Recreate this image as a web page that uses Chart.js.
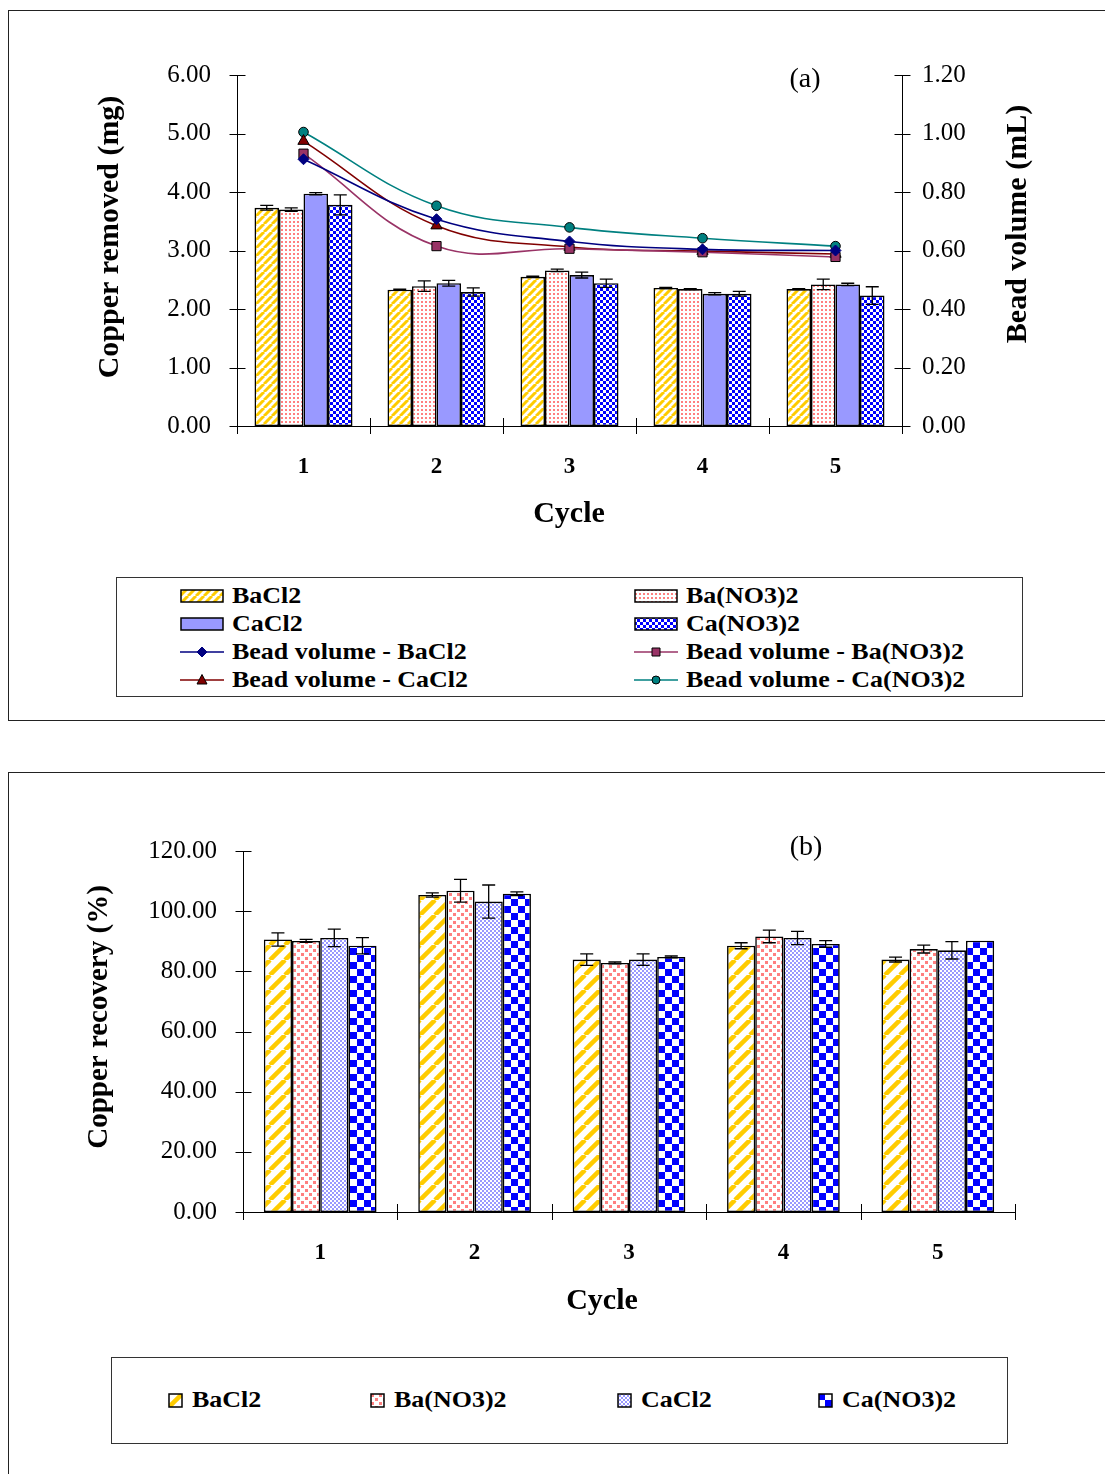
<!DOCTYPE html>
<html>
<head>
<meta charset="utf-8">
<script src="https://cdn.jsdelivr.net/npm/chart.js@4.4.1/dist/chart.umd.min.js"></script>
<style>
  html, body { margin: 0; padding: 0; background: #fff; }
  body { width: 1105px; height: 1474px; position: relative; overflow: hidden;
         font-family: "Liberation Serif", "Times New Roman", serif; }
  .panel { position: absolute; border: 1.5px solid #222; box-sizing: border-box; }
  #panelA { left: 8px; top: 10px; width: 1200px; height: 711px; }
  #panelB { left: 8px; top: 772px; width: 1200px; height: 800px; }
  .chart { position: absolute; left: 0; }
  #chartA { top: 0; }
  #chartB { top: 780px; }
  .legend { position: absolute; border: 1px solid #333; box-sizing: border-box; background: #fff; }
  #legendA { left: 116px; top: 577px; width: 907px; height: 120px; }
  #legendB { left: 111px; top: 1357px; width: 897px; height: 87px; }
  .item { position: absolute; height: 28px; display: flex; align-items: center; }
  .item canvas { display: block; }
  .item span { font-weight: bold; font-size: 23px; display: inline-block; white-space: nowrap;
               transform: scaleX(1.13); transform-origin: left center; color: #000; }
</style>
</head>
<body>
<div class="panel" id="panelA"></div>
<div class="panel" id="panelB"></div>
<canvas class="chart" id="chartA" width="1105" height="560"></canvas>
<canvas class="chart" id="chartB" width="1105" height="540"></canvas>
<div class="legend" id="legendA"></div>
<div class="legend" id="legendB"></div>

<script>
// ---- data -------------------------------------------------------------
const cycles = ['1', '2', '3', '4', '5'];
const binders = ['BaCl2', 'Ba(NO3)2', 'CaCl2', 'Ca(NO3)2'];

// (a) copper removed, mg
const removedBaCl2 = [3.73, 2.33, 2.55, 2.36, 2.34];
const removedBaNO3 = [3.70, 2.39, 2.66, 2.34, 2.42];
const removedCaCl2 = [3.97, 2.44, 2.58, 2.26, 2.42];
const removedCaNO3 = [3.78, 2.29, 2.44, 2.26, 2.23];
const removedErrBaCl2 = [0.04, 0.01, 0.01, 0.01, 0.01];
const removedErrBaNO3 = [0.03, 0.09, 0.02, 0.01, 0.09];
const removedErrCaCl2 = [0.02, 0.05, 0.05, 0.02, 0.02];
const removedErrCaNO3 = [0.17, 0.07, 0.07, 0.04, 0.15];

// (a) bead volume, mL
const volumeBaCl2 = [0.912, 0.707, 0.631, 0.604, 0.600];
const volumeBaNO3 = [0.931, 0.615, 0.606, 0.594, 0.578];
const volumeCaCl2 = [0.974, 0.685, 0.612, 0.598, 0.588];
const volumeCaNO3 = [1.005, 0.753, 0.679, 0.642, 0.615];

// (b) copper recovery, %
const recoveryBaCl2 = [90.6, 105.4, 83.9, 88.5, 83.9];
const recoveryBaNO3 = [90.1, 106.8, 82.8, 91.6, 87.4];
const recoveryCaCl2 = [91.1, 103.2, 83.9, 91.1, 87.0];
const recoveryCaNO3 = [88.5, 105.8, 84.8, 89.1, 90.2];
const recoveryErrBaCl2 = [2.2, 0.7, 1.9, 1.0, 0.8];
const recoveryErrBaNO3 = [0.5, 3.8, 0.3, 2.1, 1.3];
const recoveryErrCaCl2 = [2.9, 5.5, 1.9, 2.2, 2.9];
const recoveryErrCaNO3 = [2.7, 0.6, 0.3, 1.1, 0];

// axis ranges
const removedAxis = { min: 0, max: 6, step: 1 };
const volumeAxis = { min: 0, max: 1.2, step: 0.2 };
const recoveryAxis = { min: 0, max: 120, step: 20 };

// ---- fills --------------------------------------------------------------
const FONT = '"Liberation Serif", "Times New Roman", serif';
Chart.defaults.font.family = FONT;
Chart.defaults.color = '#000';

function tile(w, h, draw) {
  const c = document.createElement('canvas');
  c.width = w; c.height = h;
  const g = c.getContext('2d');
  g.fillStyle = '#fff';
  g.fillRect(0, 0, w, h);
  draw(g, w, h);
  return c;
}
function stripes(size, lw, color) {
  return tile(size, size, (g) => {
    g.strokeStyle = color; g.lineWidth = lw;
    for (const k of [-size, 0, size]) {
      g.beginPath(); g.moveTo(k, size); g.lineTo(k + size, 0); g.stroke();
    }
  });
}
function dots(w, h, rects, color) {
  return tile(w, h, (g) => {
    g.fillStyle = color;
    rects.forEach(r => g.fillRect(r[0], r[1], r[2], r[3]));
  });
}
function checker(cell, color) {
  return tile(cell * 2, cell * 2, (g) => {
    g.fillStyle = color;
    g.fillRect(0, 0, cell, cell);
    g.fillRect(cell, cell, cell, cell);
  });
}

const YELLOW = '#FFCC00', PINK = '#FF8080', LAVENDER = '#9999FF', BLUE = '#0000FF';
const tilesA = [stripes(8, 3, YELLOW), dots(4, 4, [[1, 1, 2, 2]], PINK), null, checker(3, BLUE)];
const tilesB = [stripes(15, 4.5, YELLOW), dots(8, 8, [[1, 1, 3, 3], [5, 5, 3, 3]], PINK),
                checker(2, LAVENDER), checker(7, BLUE)];

function fillFor(ctx, tiles, i) {
  return tiles[i] ? ctx.createPattern(tiles[i], 'repeat') : LAVENDER;
}

// ---- plugins ------------------------------------------------------------
// tick marks that cross each axis line
const crossTicks = {
  id: 'crossTicks',
  afterDraw(chart) {
    const ctx = chart.ctx;
    ctx.save();
    ctx.strokeStyle = '#000';
    ctx.lineWidth = 1;
    const seg = (x1, y1, x2, y2) => { ctx.beginPath(); ctx.moveTo(x1, y1); ctx.lineTo(x2, y2); ctx.stroke(); };
    Object.values(chart.scales).forEach(s => {
      if (s.isHorizontal()) {
        const n = s.ticks.length, step = (s.right - s.left) / n;
        for (let k = 0; k <= n; k++) {
          const x = Math.round(s.left + k * step) + 0.5;
          seg(x, s.top - 8, x, s.top + 8);
        }
      } else {
        const x = Math.round(s.position === 'left' ? s.right : s.left) + 0.5;
        s.ticks.forEach((t, i) => {
          const y = Math.round(s.getPixelForTick(i)) + 0.5;
          seg(x - 8, y, x + 8, y);
        });
      }
    });
    ctx.restore();
  }
};

// standard-deviation whiskers on the bars
const errorBars = {
  id: 'errorBars',
  afterDatasetDraw(chart, args) {
    const ds = chart.data.datasets[args.index];
    if (!ds.errorBars) return;
    const ctx = chart.ctx;
    const yScale = chart.scales[args.meta.yAxisID];
    ctx.save();
    ctx.strokeStyle = '#000';
    ctx.lineWidth = 1.3;
    args.meta.data.forEach((bar, i) => {
      const e = ds.errorBars[i];
      if (!e) return;
      const v = ds.data[i];
      const y1 = yScale.getPixelForValue(v + e), y2 = yScale.getPixelForValue(v - e);
      const x = bar.x, cap = 6.5;
      ctx.beginPath();
      ctx.moveTo(x, y1); ctx.lineTo(x, y2);
      ctx.moveTo(x - cap, y1); ctx.lineTo(x + cap, y1);
      ctx.moveTo(x - cap, y2); ctx.lineTo(x + cap, y2);
      ctx.stroke();
    });
    ctx.restore();
  }
};

// axis titles and panel letter
const panelText = {
  id: 'panelText',
  afterDraw(chart, args, opts) {
    const ctx = chart.ctx;
    (opts.items || []).forEach(t => {
      ctx.save();
      ctx.translate(t.x, t.y);
      if (t.rot) ctx.rotate(t.rot);
      ctx.font = t.font;
      ctx.fillStyle = '#000';
      ctx.textAlign = 'center';
      ctx.textBaseline = 'middle';
      ctx.fillText(t.text, 0, 0);
      ctx.restore();
    });
  }
};

const axisBorder = { color: '#000', width: 1 };
const fmt2 = v => Number(v).toFixed(2);

// ---- chart (a) ----------------------------------------------------------
const ctxA = document.getElementById('chartA').getContext('2d');
const removedSeries = [removedBaCl2, removedBaNO3, removedCaCl2, removedCaNO3];
const removedErrors = [removedErrBaCl2, removedErrBaNO3, removedErrCaCl2, removedErrCaNO3];
const volumeSeries = [volumeBaCl2, volumeBaNO3, volumeCaCl2, volumeCaNO3];
const lineStyles = [
  { color: '#000080', point: 'rectRot', radius: 5.5, border: '#000080' },
  { color: '#993366', point: 'rect', radius: 6.5, border: '#000' },
  { color: '#800000', point: 'triangle', radius: 6.5, border: '#000' },
  { color: '#008080', point: 'circle', radius: 4.8, border: '#000' }
];

const datasetsA = [];
binders.forEach((b, i) => {
  datasetsA.push({
    type: 'bar', label: b, data: removedSeries[i], yAxisID: 'y', order: 2,
    backgroundColor: fillFor(ctxA, tilesA, i), borderColor: '#000', borderWidth: 1.6,
    borderSkipped: false, errorBars: removedErrors[i]
  });
});
binders.forEach((b, i) => {
  const st = lineStyles[i];
  datasetsA.push({
    type: 'line', label: 'Bead volume - ' + b, data: volumeSeries[i], yAxisID: 'yVol', order: 1,
    borderColor: st.color, backgroundColor: st.color, borderWidth: 1.6, tension: 0.4,
    pointStyle: st.point, pointRadius: st.radius, pointBackgroundColor: st.color,
    pointBorderColor: st.border, pointBorderWidth: 1, fill: false
  });
});

new Chart(ctxA, {
  type: 'bar',
  data: { labels: cycles, datasets: datasetsA },
  options: {
    responsive: false, animation: false,
    layout: { padding: { top: 75, left: 0, right: 0, bottom: 0 } },
    datasets: { bar: { categoryPercentage: 0.737, barPercentage: 1 } },
    plugins: {
      legend: { display: false }, tooltip: { enabled: false },
      panelText: { items: [
        { text: 'Copper removed (mg)', x: 110, y: 237, rot: -Math.PI / 2, font: 'bold 30px ' + FONT },
        { text: 'Bead volume (mL)', x: 1018, y: 224, rot: -Math.PI / 2, font: 'bold 30px ' + FONT },
        { text: 'Cycle', x: 569, y: 514, font: 'bold 30px ' + FONT },
        { text: '(a)', x: 805, y: 80, font: '28px ' + FONT }
      ] }
    },
    scales: {
      x: {
        grid: { display: false }, border: axisBorder,
        ticks: { font: { size: 23, weight: 'bold' }, color: '#000', padding: 19 },
        afterFit(s) { s.height = 134; }
      },
      y: {
        position: 'left', min: removedAxis.min, max: removedAxis.max,
        grid: { display: false }, border: axisBorder,
        ticks: { stepSize: removedAxis.step, callback: fmt2, font: { size: 25 }, color: '#000', padding: 18 },
        afterFit(s) { s.width = 237; }
      },
      yVol: {
        position: 'right', min: volumeAxis.min, max: volumeAxis.max,
        grid: { display: false }, border: axisBorder,
        ticks: { stepSize: volumeAxis.step, callback: fmt2, font: { size: 25 }, color: '#000', padding: 12 },
        afterFit(s) { s.width = 203; }
      }
    }
  },
  plugins: [crossTicks, errorBars, panelText]
});

// ---- chart (b) ----------------------------------------------------------
const ctxB = document.getElementById('chartB').getContext('2d');
const recoverySeries = [recoveryBaCl2, recoveryBaNO3, recoveryCaCl2, recoveryCaNO3];
const recoveryErrors = [recoveryErrBaCl2, recoveryErrBaNO3, recoveryErrCaCl2, recoveryErrCaNO3];

new Chart(ctxB, {
  type: 'bar',
  data: {
    labels: cycles,
    datasets: binders.map((b, i) => ({
      label: b, data: recoverySeries[i],
      backgroundColor: fillFor(ctxB, tilesB, i), borderColor: '#000', borderWidth: 1.6,
      borderSkipped: false, errorBars: recoveryErrors[i]
    }))
  },
  options: {
    responsive: false, animation: false,
    layout: { padding: { top: 71, left: 0, right: 90, bottom: 0 } },
    datasets: { bar: { categoryPercentage: 0.73, barPercentage: 1 } },
    plugins: {
      legend: { display: false }, tooltip: { enabled: false },
      panelText: { items: [
        { text: 'Copper recovery (%)', x: 100, y: 237, rot: -Math.PI / 2, font: 'bold 29px ' + FONT },
        { text: 'Cycle', x: 602, y: 521, font: 'bold 30px ' + FONT },
        { text: '(b)', x: 806, y: 68, font: '28px ' + FONT }
      ] }
    },
    scales: {
      x: {
        grid: { display: false }, border: axisBorder,
        ticks: { font: { size: 23, weight: 'bold' }, color: '#000', padding: 19 },
        afterFit(s) { s.height = 108; }
      },
      y: {
        position: 'left', min: recoveryAxis.min, max: recoveryAxis.max,
        grid: { display: false }, border: axisBorder,
        ticks: { stepSize: recoveryAxis.step, callback: fmt2, font: { size: 25 }, color: '#000', padding: 18 },
        afterFit(s) { s.width = 243; }
      }
    }
  },
  plugins: [crossTicks, errorBars, panelText]
});

// ---- legends ------------------------------------------------------------
function drawMarker(g, style, cx, cy) {
  g.fillStyle = style.color;
  g.strokeStyle = style.border;
  g.lineWidth = 1;
  g.beginPath();
  if (style.point === 'rectRot') {
    g.moveTo(cx, cy - 5); g.lineTo(cx + 5, cy); g.lineTo(cx, cy + 5); g.lineTo(cx - 5, cy); g.closePath();
  } else if (style.point === 'rect') {
    g.rect(cx - 4, cy - 4, 8, 8);
  } else if (style.point === 'triangle') {
    g.moveTo(cx, cy - 5.5); g.lineTo(cx + 5, cy + 4); g.lineTo(cx - 5, cy + 4); g.closePath();
  } else {
    g.arc(cx, cy, 4, 0, Math.PI * 2);
  }
  g.fill(); g.stroke();
}

function legendItem(box, left, top, swW, swH, paint, text) {
  const item = document.createElement('div');
  item.className = 'item';
  item.style.left = left + 'px';
  item.style.top = top + 'px';
  const c = document.createElement('canvas');
  c.width = swW; c.height = swH;
  paint(c.getContext('2d'), swW, swH);
  c.style.marginRight = (swW > 20 ? 8 : 9) + 'px';
  const span = document.createElement('span');
  span.textContent = text;
  item.appendChild(c);
  item.appendChild(span);
  box.appendChild(item);
}

const legA = document.getElementById('legendA');
const colA = [63, 517], rowA = [4, 32, 60, 88];
binders.forEach((b, i) => {
  legendItem(legA, colA[i % 2], rowA[Math.floor(i / 2)], 44, 16, (g, w, h) => {
    g.fillStyle = fillFor(g, tilesA, i);
    g.fillRect(1, 2, w - 2, h - 4);
    g.strokeStyle = '#000'; g.lineWidth = 1.5;
    g.strokeRect(1, 2, w - 2, h - 4);
  }, b);
});
binders.forEach((b, i) => {
  const st = lineStyles[i];
  legendItem(legA, colA[i % 2], rowA[2 + Math.floor(i / 2)], 44, 16, (g, w, h) => {
    g.strokeStyle = st.color; g.lineWidth = 1.6;
    g.beginPath(); g.moveTo(0, h / 2); g.lineTo(w, h / 2); g.stroke();
    drawMarker(g, st, w / 2, h / 2);
  }, 'Bead volume - ' + b);
});

const legB = document.getElementById('legendB');
const colB = [56, 258, 505, 706];
binders.forEach((b, i) => {
  legendItem(legB, colB[i], 28, 15, 15, (g, w, h) => {
    g.fillStyle = fillFor(g, tilesB, i);
    g.fillRect(1, 1, w - 2, h - 2);
    g.strokeStyle = '#000'; g.lineWidth = 1.5;
    g.strokeRect(1, 1, w - 2, h - 2);
  }, b);
});
</script>
</body>
</html>
